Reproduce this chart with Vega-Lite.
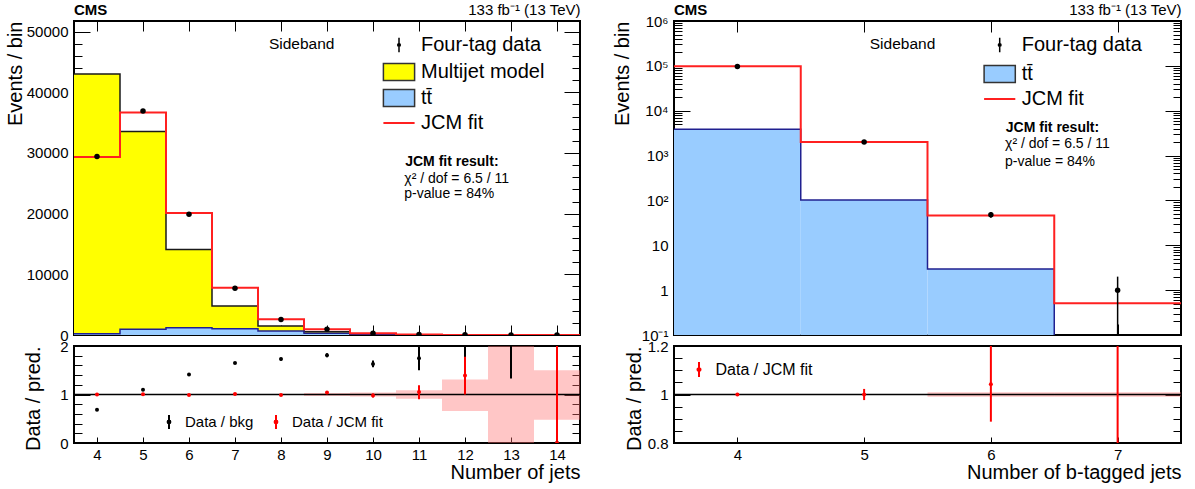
{
"$schema": "https://vega.github.io/schema/vega-lite/v6.json",
"padding": {"left": 4, "top": 1, "right": 5, "bottom": 5},
"background": "white",
"spacing": 29,
"resolve": {"scale": {"fill": "independent", "stroke": "independent", "color": "independent"}, "legend": {"fill": "independent", "stroke": "independent", "color": "independent"}},
"config": {
  "font": "Liberation Sans",
  "view": {"stroke": "black", "strokeWidth": 2},
  "axis": {"domain": false, "grid": false, "tickColor": "black", "tickWidth": 1, "labelColor": "black", "titleColor": "black", "labelFont": "Liberation Sans", "titleFont": "Liberation Sans", "labelFontSize": 15, "titleFontSize": 20, "titleFontWeight": "normal", "labelFlush": false, "labelOverlap": false},
  "legend": {"labelFont": "Liberation Sans", "labelColor": "black", "padding": 0, "labelLimit": 400},
  "title": {"font": "Liberation Sans", "color": "black"},
  "text": {"font": "Liberation Sans", "color": "black"}
},
"datasets": {
  "njets": [
    {"nj":4,"xlo":3.5,"xhi":4.5,"data":29400,"dlo":29229,"dhi":29571,"bkg":43000,"tt":200,"jcm":29330},
    {"nj":5,"xlo":4.5,"xhi":5.5,"data":36900,"dlo":36708,"dhi":37092,"bkg":33550,"tt":940,"jcm":36680},
    {"nj":6,"xlo":5.5,"xhi":6.5,"data":19900,"dlo":19759,"dhi":20041,"bkg":14090,"tt":1200,"jcm":20120},
    {"nj":7,"xlo":6.5,"xhi":7.5,"data":7700,"dlo":7612,"dhi":7788,"bkg":4770,"tt":1040,"jcm":7780},
    {"nj":8,"xlo":7.5,"xhi":8.5,"data":2560,"dlo":2509,"dhi":2611,"bkg":1480,"tt":660,"jcm":2580},
    {"nj":9,"xlo":8.5,"xhi":9.5,"data":970,"dlo":939,"dhi":1001,"bkg":536,"tt":300,"jcm":930},
    {"nj":10,"xlo":9.5,"xhi":10.5,"data":270,"dlo":254,"dhi":286,"bkg":166,"tt":110,"jcm":275},
    {"nj":11,"xlo":10.5,"xhi":11.5,"data":85,"dlo":76,"dhi":94,"bkg":49,"tt":30,"jcm":80},
    {"nj":12,"xlo":11.5,"xhi":12.5,"data":28,"dlo":23,"dhi":33,"bkg":11,"tt":7,"jcm":20},
    {"nj":13,"xlo":12.5,"xhi":13.5,"data":6,"dlo":3.6,"dhi":8.4,"bkg":2,"tt":1.2,"jcm":1.7},
    {"nj":14,"xlo":13.5,"xhi":14.5,"data":0,"dlo":0,"dhi":1.8,"bkg":1,"tt":0.5,"jcm":0.4}
  ],
  "nratio": [
    {"nj":4,"kind":"Data / bkg","r":0.684,"lo":0.68,"hi":0.688},
    {"nj":5,"kind":"Data / bkg","r":1.1,"lo":1.094,"hi":1.106},
    {"nj":6,"kind":"Data / bkg","r":1.41,"lo":1.4,"hi":1.42},
    {"nj":7,"kind":"Data / bkg","r":1.65,"lo":1.63,"hi":1.67},
    {"nj":8,"kind":"Data / bkg","r":1.73,"lo":1.7,"hi":1.76},
    {"nj":9,"kind":"Data / bkg","r":1.81,"lo":1.77,"hi":1.85},
    {"nj":10,"kind":"Data / bkg","r":1.63,"lo":1.56,"hi":1.7},
    {"nj":11,"kind":"Data / bkg","r":1.75,"lo":1.5,"hi":2.0},
    {"nj":12,"kind":"Data / bkg","r":2.5,"lo":1.0,"hi":3.6},
    {"nj":13,"kind":"Data / bkg","r":3.0,"lo":1.33,"hi":4.6},
    {"nj":14,"kind":"Data / bkg","r":0,"lo":0,"hi":2.3},
    {"nj":4,"kind":"Data / JCM fit","r":1.002,"lo":0.996,"hi":1.008},
    {"nj":5,"kind":"Data / JCM fit","r":1.006,"lo":1.0,"hi":1.012},
    {"nj":6,"kind":"Data / JCM fit","r":0.99,"lo":0.983,"hi":0.997},
    {"nj":7,"kind":"Data / JCM fit","r":1.01,"lo":1.0,"hi":1.02},
    {"nj":8,"kind":"Data / JCM fit","r":0.99,"lo":0.97,"hi":1.01},
    {"nj":9,"kind":"Data / JCM fit","r":1.04,"lo":1.01,"hi":1.07},
    {"nj":10,"kind":"Data / JCM fit","r":0.98,"lo":0.94,"hi":1.02},
    {"nj":11,"kind":"Data / JCM fit","r":1.05,"lo":0.9,"hi":1.19},
    {"nj":12,"kind":"Data / JCM fit","r":1.39,"lo":1.0,"hi":1.78},
    {"nj":13,"kind":"Data / JCM fit","r":3.5,"lo":2.1,"hi":5.0},
    {"nj":14,"kind":"Data / JCM fit","r":0,"lo":0,"hi":4.6}
  ],
  "nband": [
    {"xlo":3.5,"xhi":4.5,"blo":0.997,"bhi":1.003},
    {"xlo":4.5,"xhi":5.5,"blo":0.997,"bhi":1.003},
    {"xlo":5.5,"xhi":6.5,"blo":0.996,"bhi":1.004},
    {"xlo":6.5,"xhi":7.5,"blo":0.995,"bhi":1.005},
    {"xlo":7.5,"xhi":8.5,"blo":0.99,"bhi":1.01},
    {"xlo":8.5,"xhi":9.5,"blo":0.97,"bhi":1.03},
    {"xlo":9.5,"xhi":10.5,"blo":0.96,"bhi":1.04},
    {"xlo":10.5,"xhi":11.5,"blo":0.91,"bhi":1.09},
    {"xlo":11.5,"xhi":12.5,"blo":0.66,"bhi":1.31},
    {"xlo":12.5,"xhi":13.5,"blo":-0.2,"bhi":2.2},
    {"xlo":13.5,"xhi":14.5,"blo":0.48,"bhi":1.5}
  ],
  "btag": [
    {"nb":4,"xlo":3.5,"xhi":4.5,"data":97000,"dlo":96690,"dhi":97310,"tt":3870,"jcm":97800},
    {"nb":5,"xlo":4.5,"xhi":5.5,"data":2000,"dlo":1955,"dhi":2045,"tt":102,"jcm":2000},
    {"nb":6,"xlo":5.5,"xhi":6.5,"data":48,"dlo":41,"dhi":55,"tt":2.95,"jcm":46},
    {"nb":7,"xlo":6.5,"xhi":7.5,"data":1,"dlo":0.01,"dhi":2,"tt":0.08,"jcm":0.51}
  ],
  "bratio": [
    {"nb":4,"kind":"Data / JCM fit","r":1.0,"lo":0.997,"hi":1.003},
    {"nb":5,"kind":"Data / JCM fit","r":1.0,"lo":0.977,"hi":1.023},
    {"nb":6,"kind":"Data / JCM fit","r":1.042,"lo":0.888,"hi":1.21},
    {"nb":7,"kind":"Data / JCM fit","r":1.96,"lo":0.0,"hi":3.92}
  ],
  "bband": [
    {"xlo":3.5,"xhi":4.5,"blo":0.9995,"bhi":1.0005},
    {"xlo":4.5,"xhi":5.5,"blo":0.999,"bhi":1.001},
    {"xlo":5.5,"xhi":6.5,"blo":0.991,"bhi":1.009},
    {"xlo":6.5,"xhi":7.5,"blo":0.991,"bhi":1.009}
  ]
},
"hconcat": [
{
  "spacing": 11,
  "bounds": "flush",
  "resolve": {"scale": {"fill": "independent", "stroke": "independent", "color": "independent"}, "legend": {"fill": "independent", "stroke": "independent", "color": "independent"}},
  "vconcat": [
  {
    "width": 506, "height": 314,
    "title": {"text": "CMS", "anchor": "start", "frame": "group", "fontSize": 15, "fontWeight": "bold", "offset": -15},
    "resolve": {"axis": {"x": "independent", "y": "independent"}},
    "layer": [
      {
        "data": {"name": "njets"},
        "mark": {"type": "rect", "clip": true},
        "encoding": {
          "x": {"field": "xlo", "type": "quantitative", "scale": {"domain": [3.5, 14.5], "nice": false, "zero": false}, "axis": {"orient": "bottom", "values": [4,5,6,7,8,9,10,11,12,13,14], "labels": false, "tickSize": -10, "title": null}},
          "x2": {"field": "xhi"},
          "y": {"field": "bkg", "type": "quantitative", "scale": {"domain": [0, 51750], "nice": false, "zero": false}, "axis": {"orient": "left", "title": "Events / bin", "titleAnchor": "end", "titlePadding": 1, "values": [0,2000,4000,6000,8000,10000,12000,14000,16000,18000,20000,22000,24000,26000,28000,30000,32000,34000,36000,38000,40000,42000,44000,46000,48000,50000], "tickSize": {"condition": {"test": "datum.value % 10000 === 0", "value": -16}, "value": -8}, "labelPadding": 22, "labelExpr": "datum.value % 10000 === 0 ? format(datum.value, 'd') : ''"}},
          "y2": {"datum": 0},
          "fill": {"datum": "Multijet model", "type": "nominal", "scale": {"domain": ["Multijet model", "tt̄"], "range": ["#ffff00", "#99ccff"]},
            "legend": {"orient": "none", "legendX": 311, "legendY": 37, "title": null, "labelFontSize": 20, "labelOffset": 8, "rowPadding": 0, "symbolSize": 676, "symbolType": "M-1.2,-0.65H1.2V0.65H-1.2Z", "symbolStrokeColor": "#333333", "symbolStrokeWidth": 1.5, "symbolOpacity": 1}}
        }
      },
      {
        "data": {"name": "njets"},
        "mark": {"type": "rect", "clip": true},
        "encoding": {
          "x": {"field": "xlo", "type": "quantitative", "axis": null},
          "x2": {"field": "xhi"},
          "y": {"field": "tt", "type": "quantitative", "axis": null},
          "y2": {"datum": 0},
          "fill": {"datum": "tt̄", "type": "nominal"}
        }
      },
      {
        "data": {"name": "njets"},
        "transform": [{"fold": ["xlo", "xhi"], "as": ["edge", "xe"]}],
        "mark": {"type": "line", "stroke": "#1a1a1a", "strokeWidth": 1.5, "clip": true},
        "encoding": {
          "x": {"field": "xe", "type": "quantitative", "axis": null},
          "y": {"field": "bkg", "type": "quantitative", "axis": null},
          "order": [{"field": "xe", "type": "quantitative"}, {"field": "nj", "type": "quantitative"}]
        }
      },
      {
        "data": {"name": "njets"},
        "transform": [{"fold": ["xlo", "xhi"], "as": ["edge", "xe"]}],
        "mark": {"type": "line", "stroke": "#202090", "strokeWidth": 1.5, "clip": true},
        "encoding": {
          "x": {"field": "xe", "type": "quantitative", "axis": null},
          "y": {"field": "tt", "type": "quantitative", "axis": null},
          "order": [{"field": "xe", "type": "quantitative"}, {"field": "nj", "type": "quantitative"}]
        }
      },
      {
        "data": {"name": "njets"},
        "transform": [{"fold": ["xlo", "xhi"], "as": ["edge", "xe"]}],
        "mark": {"type": "line", "strokeWidth": 2, "clip": true},
        "encoding": {
          "x": {"field": "xe", "type": "quantitative", "axis": null},
          "y": {"field": "jcm", "type": "quantitative", "axis": null},
          "color": {"datum": "JCM fit", "type": "nominal", "scale": {"domain": ["JCM fit"], "range": ["#ff2020"]},
            "legend": {"orient": "none", "legendX": 311, "legendY": 88, "title": null, "labelFontSize": 20, "labelOffset": 8, "symbolSize": 676, "symbolType": "M-1.2,0H1.2", "symbolStrokeWidth": 2, "symbolOpacity": 1}},
          "order": [{"field": "xe", "type": "quantitative"}, {"field": "nj", "type": "quantitative"}]
        }
      },
      {
        "data": {"name": "njets"},
        "mark": {"type": "rule", "strokeWidth": 1.5, "clip": true},
        "encoding": {
          "x": {"field": "nj", "type": "quantitative", "axis": null},
          "y": {"field": "dlo", "type": "quantitative", "axis": null},
          "y2": {"field": "dhi"},
          "stroke": {"datum": "Four-tag data", "type": "nominal", "scale": {"domain": ["Four-tag data"], "range": ["black"]},
            "legend": {"orient": "none", "legendX": 311, "legendY": 10, "title": null, "labelFontSize": 20, "labelOffset": 8, "symbolSize": 676, "symbolType": "M0,-0.55V0.55 M0.1,0A0.1,0.1 0 1,1 -0.1,0A0.1,0.1 0 1,1 0.1,0", "symbolStrokeWidth": 1.5, "symbolFillColor": "black", "symbolOpacity": 1}}
        }
      },
      {
        "data": {"name": "njets"},
        "mark": {"type": "point", "filled": true, "color": "black", "size": 30, "opacity": 1, "clip": true},
        "encoding": {"x": {"field": "nj", "type": "quantitative", "axis": null}, "y": {"field": "data", "type": "quantitative", "axis": null}}
      },
      {
        "data": {"values": [{}]},
        "mark": {"type": "text", "text": "Sideband", "fontSize": 15.5, "align": "center", "baseline": "middle"},
        "encoding": {"x": {"datum": 8.45, "type": "quantitative", "axis": null}, "y": {"datum": 47910, "type": "quantitative", "axis": null}}
      },
      {
        "data": {"values": [{}]},
        "mark": {"type": "text", "text": "JCM fit result:", "fontSize": 14, "fontWeight": "bold", "align": "left", "baseline": "middle"},
        "encoding": {"x": {"datum": 10.7, "type": "quantitative", "axis": null}, "y": {"datum": 28510, "type": "quantitative", "axis": null}}
      },
      {
        "data": {"values": [{}]},
        "mark": {"type": "text", "text": "χ² / dof = 6.5 / 11", "fontSize": 14, "align": "left", "baseline": "middle"},
        "encoding": {"x": {"datum": 10.68, "type": "quantitative", "axis": null}, "y": {"datum": 25760, "type": "quantitative", "axis": null}}
      },
      {
        "data": {"values": [{}]},
        "mark": {"type": "text", "text": "p-value = 84%", "fontSize": 14, "align": "left", "baseline": "middle"},
        "encoding": {"x": {"datum": 10.68, "type": "quantitative", "axis": null}, "y": {"datum": 23190, "type": "quantitative", "axis": null}}
      },
      {
        "data": {"name": "njets"},
        "mark": {"type": "point", "opacity": 0},
        "encoding": {
          "x": {"field": "nj", "type": "quantitative", "axis": {"orient": "top", "values": [4,5,6,7,8,9,10,11,12,13,14], "labels": false, "tickSize": -10, "title": "133 fb⁻¹ (13 TeV)", "titleAnchor": "end", "titleFontSize": 15, "titlePadding": 3}},
          "y": {"field": "data", "type": "quantitative", "axis": {"orient": "right", "values": [0,2000,4000,6000,8000,10000,12000,14000,16000,18000,20000,22000,24000,26000,28000,30000,32000,34000,36000,38000,40000,42000,44000,46000,48000,50000], "tickSize": {"condition": {"test": "datum.value % 10000 === 0", "value": -16}, "value": -8}, "labels": false, "title": null}}
        }
      }
    ]
  },
  {
    "width": 506, "height": 97,
    "resolve": {"axis": {"x": "independent", "y": "independent"}},
    "layer": [
      {
        "data": {"name": "nband"},
        "mark": {"type": "rect", "fill": "#ff7070", "opacity": 0.4, "clip": true},
        "encoding": {
          "x": {"field": "xlo", "type": "quantitative", "scale": {"domain": [3.5, 14.5], "nice": false, "zero": false}, "axis": {"orient": "bottom", "values": [4,5,6,7,8,9,10,11,12,13,14], "format": "d", "tickSize": -6, "labelPadding": 10, "title": "Number of jets", "titleAnchor": "end", "titlePadding": 0}},
          "x2": {"field": "xhi"},
          "y": {"field": "blo", "type": "quantitative", "scale": {"domain": [0, 2], "nice": false, "zero": false}, "axis": {"orient": "left", "values": [0,0.2,0.4,0.6,0.8,1,1.2,1.4,1.6,1.8,2], "tickSize": {"condition": {"test": "datum.value % 1 === 0", "value": -16}, "value": -8}, "labelPadding": 22, "labelExpr": "datum.value === 0 ? '0' : datum.value === 1 ? '1' : datum.value === 2 ? '2' : ''", "title": "Data / pred.", "titleAnchor": "end", "titlePadding": 16}},
          "y2": {"field": "bhi"}
        }
      },
      {
        "data": {"values": [{}]},
        "mark": {"type": "rule", "color": "black", "strokeWidth": 1.5},
        "encoding": {"x": {"datum": 3.5, "type": "quantitative", "axis": null}, "x2": {"datum": 14.5}, "y": {"datum": 1, "type": "quantitative", "axis": null}}
      },
      {
        "data": {"name": "nratio"},
        "mark": {"type": "rule", "strokeWidth": 2, "clip": true},
        "encoding": {
          "x": {"field": "nj", "type": "quantitative", "axis": null},
          "y": {"field": "lo", "type": "quantitative", "axis": null},
          "y2": {"field": "hi"},
          "stroke": {"field": "kind", "type": "nominal", "scale": {"domain": ["Data / bkg", "Data / JCM fit"], "range": ["black", "#ff0000"]},
            "legend": {"orient": "none", "legendX": 87, "legendY": 68, "direction": "horizontal", "title": null, "labelFontSize": 15, "labelOffset": 8, "columnPadding": 14, "symbolSize": 196, "symbolType": "M0,-1V1 M0.2,0A0.2,0.2 0 1,1 -0.2,0A0.2,0.2 0 1,1 0.2,0", "symbolStrokeWidth": 2, "symbolOpacity": 1}}
        }
      },
      {
        "data": {"name": "nratio"},
        "mark": {"type": "point", "filled": true, "size": 16, "opacity": 1, "clip": true},
        "encoding": {
          "x": {"field": "nj", "type": "quantitative", "axis": null},
          "y": {"field": "r", "type": "quantitative", "axis": null},
          "fill": {"field": "kind", "type": "nominal", "scale": {"domain": ["Data / bkg", "Data / JCM fit"], "range": ["black", "#ff0000"]}, "legend": null}
        }
      },
      {
        "data": {"name": "nratio"},
        "mark": {"type": "point", "opacity": 0},
        "encoding": {
          "x": {"field": "nj", "type": "quantitative", "axis": null},
          "y": {"field": "r", "type": "quantitative", "axis": {"orient": "right", "values": [0,0.2,0.4,0.6,0.8,1,1.2,1.4,1.6,1.8,2], "tickSize": {"condition": {"test": "datum.value % 1 === 0", "value": -16}, "value": -8}, "labels": false, "title": null}}
        }
      }
    ]
  }
  ]
},
{
  "spacing": 11,
  "bounds": "flush",
  "resolve": {"scale": {"fill": "independent", "stroke": "independent", "color": "independent"}, "legend": {"fill": "independent", "stroke": "independent", "color": "independent"}},
  "vconcat": [
  {
    "width": 507, "height": 314,
    "title": {"text": "CMS", "anchor": "start", "frame": "group", "fontSize": 15, "fontWeight": "bold", "offset": -15},
    "resolve": {"axis": {"x": "independent", "y": "independent"}},
    "layer": [
      {
        "data": {"name": "btag"},
        "mark": {"type": "rect", "clip": true},
        "encoding": {
          "x": {"field": "xlo", "type": "quantitative", "scale": {"domain": [3.5, 7.5], "nice": false, "zero": false}, "axis": {"orient": "bottom", "values": [4,5,6,7], "labels": false, "tickSize": -11, "title": null}},
          "x2": {"field": "xhi"},
          "y": {"field": "tt", "type": "quantitative", "scale": {"type": "log", "domain": [0.1, 1000000], "nice": false}, "axis": {"orient": "left", "title": "Events / bin", "titleAnchor": "end", "titlePadding": 9, "values": [0.1,0.2,0.3,0.4,0.5,0.6,0.7,0.8,0.9,1,2,3,4,5,6,7,8,9,10,20,30,40,50,60,70,80,90,100,200,300,400,500,600,700,800,900,1000,2000,3000,4000,5000,6000,7000,8000,9000,10000,20000,30000,40000,50000,60000,70000,80000,90000,100000,200000,300000,400000,500000,600000,700000,800000,900000,1000000], "tickSize": {"condition": {"test": "indexof([0.1,1,10,100,1000,10000,100000,1000000], datum.value) >= 0", "value": -16}, "value": -8}, "labelPadding": 22, "labelExpr": "datum.value === 0.1 ? '10⁻¹' : datum.value === 1 ? '1' : datum.value === 10 ? '10' : datum.value === 100 ? '10²' : datum.value === 1000 ? '10³' : datum.value === 10000 ? '10⁴' : datum.value === 100000 ? '10⁵' : datum.value === 1000000 ? '10⁶' : ''"}},
          "y2": {"datum": 0.1},
          "fill": {"datum": "tt̄", "type": "nominal", "scale": {"domain": ["tt̄"], "range": ["#99ccff"]},
            "legend": {"orient": "none", "legendX": 311.7, "legendY": 39, "title": null, "labelFontSize": 20, "labelOffset": 8, "symbolSize": 676, "symbolType": "M-1.2,-0.65H1.2V0.65H-1.2Z", "symbolStrokeColor": "#333333", "symbolStrokeWidth": 1.5, "symbolOpacity": 1}}
        }
      },
      {
        "data": {"name": "btag"},
        "transform": [{"fold": ["xlo", "xhi"], "as": ["edge", "xe"]}],
        "mark": {"type": "line", "stroke": "#202090", "strokeWidth": 1.5, "clip": true},
        "encoding": {
          "x": {"field": "xe", "type": "quantitative", "axis": null},
          "y": {"field": "tt", "type": "quantitative", "axis": null},
          "order": [{"field": "xe", "type": "quantitative"}, {"field": "nb", "type": "quantitative"}]
        }
      },
      {
        "data": {"name": "btag"},
        "transform": [{"fold": ["xlo", "xhi"], "as": ["edge", "xe"]}],
        "mark": {"type": "line", "strokeWidth": 2, "clip": true},
        "encoding": {
          "x": {"field": "xe", "type": "quantitative", "axis": null},
          "y": {"field": "jcm", "type": "quantitative", "axis": null},
          "color": {"datum": "JCM fit", "type": "nominal", "scale": {"domain": ["JCM fit"], "range": ["#ff2020"]},
            "legend": {"orient": "none", "legendX": 311.7, "legendY": 64, "title": null, "labelFontSize": 20, "labelOffset": 8, "symbolSize": 676, "symbolType": "M-1.2,0H1.2", "symbolStrokeWidth": 2, "symbolOpacity": 1}},
          "order": [{"field": "xe", "type": "quantitative"}, {"field": "nb", "type": "quantitative"}]
        }
      },
      {
        "data": {"name": "btag"},
        "mark": {"type": "rule", "strokeWidth": 1.5, "clip": true},
        "encoding": {
          "x": {"field": "nb", "type": "quantitative", "axis": null},
          "y": {"field": "dlo", "type": "quantitative", "axis": null},
          "y2": {"field": "dhi"},
          "stroke": {"datum": "Four-tag data", "type": "nominal", "scale": {"domain": ["Four-tag data"], "range": ["black"]},
            "legend": {"orient": "none", "legendX": 311.7, "legendY": 10, "title": null, "labelFontSize": 20, "labelOffset": 8, "symbolSize": 676, "symbolType": "M0,-0.55V0.55 M0.1,0A0.1,0.1 0 1,1 -0.1,0A0.1,0.1 0 1,1 0.1,0", "symbolStrokeWidth": 1.5, "symbolFillColor": "black", "symbolOpacity": 1}}
        }
      },
      {
        "data": {"name": "btag"},
        "mark": {"type": "point", "filled": true, "color": "black", "size": 30, "opacity": 1, "clip": true},
        "encoding": {"x": {"field": "nb", "type": "quantitative", "axis": null}, "y": {"field": "data", "type": "quantitative", "axis": null}}
      },
      {
        "data": {"values": [{}]},
        "mark": {"type": "text", "text": "Sideband", "fontSize": 15.5, "align": "center", "baseline": "middle"},
        "encoding": {"x": {"datum": 5.303, "type": "quantitative", "axis": null}, "y": {"datum": 302700, "type": "quantitative", "axis": null}}
      },
      {
        "data": {"values": [{}]},
        "mark": {"type": "text", "text": "JCM fit result:", "fontSize": 14, "fontWeight": "bold", "align": "left", "baseline": "middle"},
        "encoding": {"x": {"datum": 6.118, "type": "quantitative", "axis": null}, "y": {"datum": 4190, "type": "quantitative", "axis": null}}
      },
      {
        "data": {"values": [{}]},
        "mark": {"type": "text", "text": "χ² / dof = 6.5 / 11", "fontSize": 14, "align": "left", "baseline": "middle"},
        "encoding": {"x": {"datum": 6.112, "type": "quantitative", "axis": null}, "y": {"datum": 1840, "type": "quantitative", "axis": null}}
      },
      {
        "data": {"values": [{}]},
        "mark": {"type": "text", "text": "p-value = 84%", "fontSize": 14, "align": "left", "baseline": "middle"},
        "encoding": {"x": {"datum": 6.112, "type": "quantitative", "axis": null}, "y": {"datum": 720, "type": "quantitative", "axis": null}}
      },
      {
        "data": {"name": "btag"},
        "mark": {"type": "point", "opacity": 0},
        "encoding": {
          "x": {"field": "nb", "type": "quantitative", "axis": {"orient": "top", "values": [4,5,6,7], "labels": false, "tickSize": -11, "title": "133 fb⁻¹ (13 TeV)", "titleAnchor": "end", "titleFontSize": 15, "titlePadding": 3}},
          "y": {"field": "data", "type": "quantitative", "axis": {"orient": "right", "values": [0.1,0.2,0.3,0.4,0.5,0.6,0.7,0.8,0.9,1,2,3,4,5,6,7,8,9,10,20,30,40,50,60,70,80,90,100,200,300,400,500,600,700,800,900,1000,2000,3000,4000,5000,6000,7000,8000,9000,10000,20000,30000,40000,50000,60000,70000,80000,90000,100000,200000,300000,400000,500000,600000,700000,800000,900000,1000000], "tickSize": {"condition": {"test": "indexof([0.1,1,10,100,1000,10000,100000,1000000], datum.value) >= 0", "value": -16}, "value": -8}, "labels": false, "title": null}}
        }
      }
    ]
  },
  {
    "width": 507, "height": 97,
    "resolve": {"axis": {"x": "independent", "y": "independent"}},
    "layer": [
      {
        "data": {"name": "bband"},
        "mark": {"type": "rect", "fill": "#ff7070", "opacity": 0.4, "clip": true},
        "encoding": {
          "x": {"field": "xlo", "type": "quantitative", "scale": {"domain": [3.5, 7.5], "nice": false, "zero": false}, "axis": {"orient": "bottom", "values": [4,5,6,7], "format": "d", "tickSize": -6, "labelPadding": 10, "title": "Number of b-tagged jets", "titleAnchor": "end", "titlePadding": 0}},
          "x2": {"field": "xhi"},
          "y": {"field": "blo", "type": "quantitative", "scale": {"domain": [0.8, 1.2], "nice": false, "zero": false}, "axis": {"orient": "left", "values": [0.8,0.85,0.9,0.95,1,1.05,1.1,1.15,1.2], "tickSize": {"condition": {"test": "indexof([0.8,1,1.2], datum.value) >= 0", "value": -16}, "value": -8}, "labelPadding": 22, "labelExpr": "datum.value === 0.8 ? '0.8' : datum.value === 1 ? '1' : datum.value === 1.2 ? '1.2' : ''", "title": "Data / pred.", "titleAnchor": "end", "titlePadding": 3}},
          "y2": {"field": "bhi"}
        }
      },
      {
        "data": {"values": [{}]},
        "mark": {"type": "rule", "color": "black", "strokeWidth": 1.5},
        "encoding": {"x": {"datum": 3.5, "type": "quantitative", "axis": null}, "x2": {"datum": 7.5}, "y": {"datum": 1, "type": "quantitative", "axis": null}}
      },
      {
        "data": {"name": "bratio"},
        "mark": {"type": "rule", "strokeWidth": 2, "clip": true},
        "encoding": {
          "x": {"field": "nb", "type": "quantitative", "axis": null},
          "y": {"field": "lo", "type": "quantitative", "axis": null},
          "y2": {"field": "hi"},
          "stroke": {"field": "kind", "type": "nominal", "scale": {"domain": ["Data / JCM fit"], "range": ["#ff0000"]},
            "legend": {"orient": "none", "legendX": 16.5, "legendY": 15, "title": null, "labelFontSize": 16, "labelOffset": 8, "symbolSize": 225, "symbolType": "M0,-1V1 M0.2,0A0.2,0.2 0 1,1 -0.2,0A0.2,0.2 0 1,1 0.2,0", "symbolStrokeWidth": 2, "symbolOpacity": 1}}
        }
      },
      {
        "data": {"name": "bratio"},
        "mark": {"type": "point", "filled": true, "size": 16, "opacity": 1, "clip": true, "color": "#ff0000"},
        "encoding": {
          "x": {"field": "nb", "type": "quantitative", "axis": null},
          "y": {"field": "r", "type": "quantitative", "axis": null}
        }
      },
      {
        "data": {"name": "bratio"},
        "mark": {"type": "point", "opacity": 0},
        "encoding": {
          "x": {"field": "nb", "type": "quantitative", "axis": null},
          "y": {"field": "r", "type": "quantitative", "axis": {"orient": "right", "values": [0.8,0.85,0.9,0.95,1,1.05,1.1,1.15,1.2], "tickSize": {"condition": {"test": "indexof([0.8,1,1.2], datum.value) >= 0", "value": -16}, "value": -8}, "labels": false, "title": null}}
        }
      }
    ]
  }
  ]
}
]
}
